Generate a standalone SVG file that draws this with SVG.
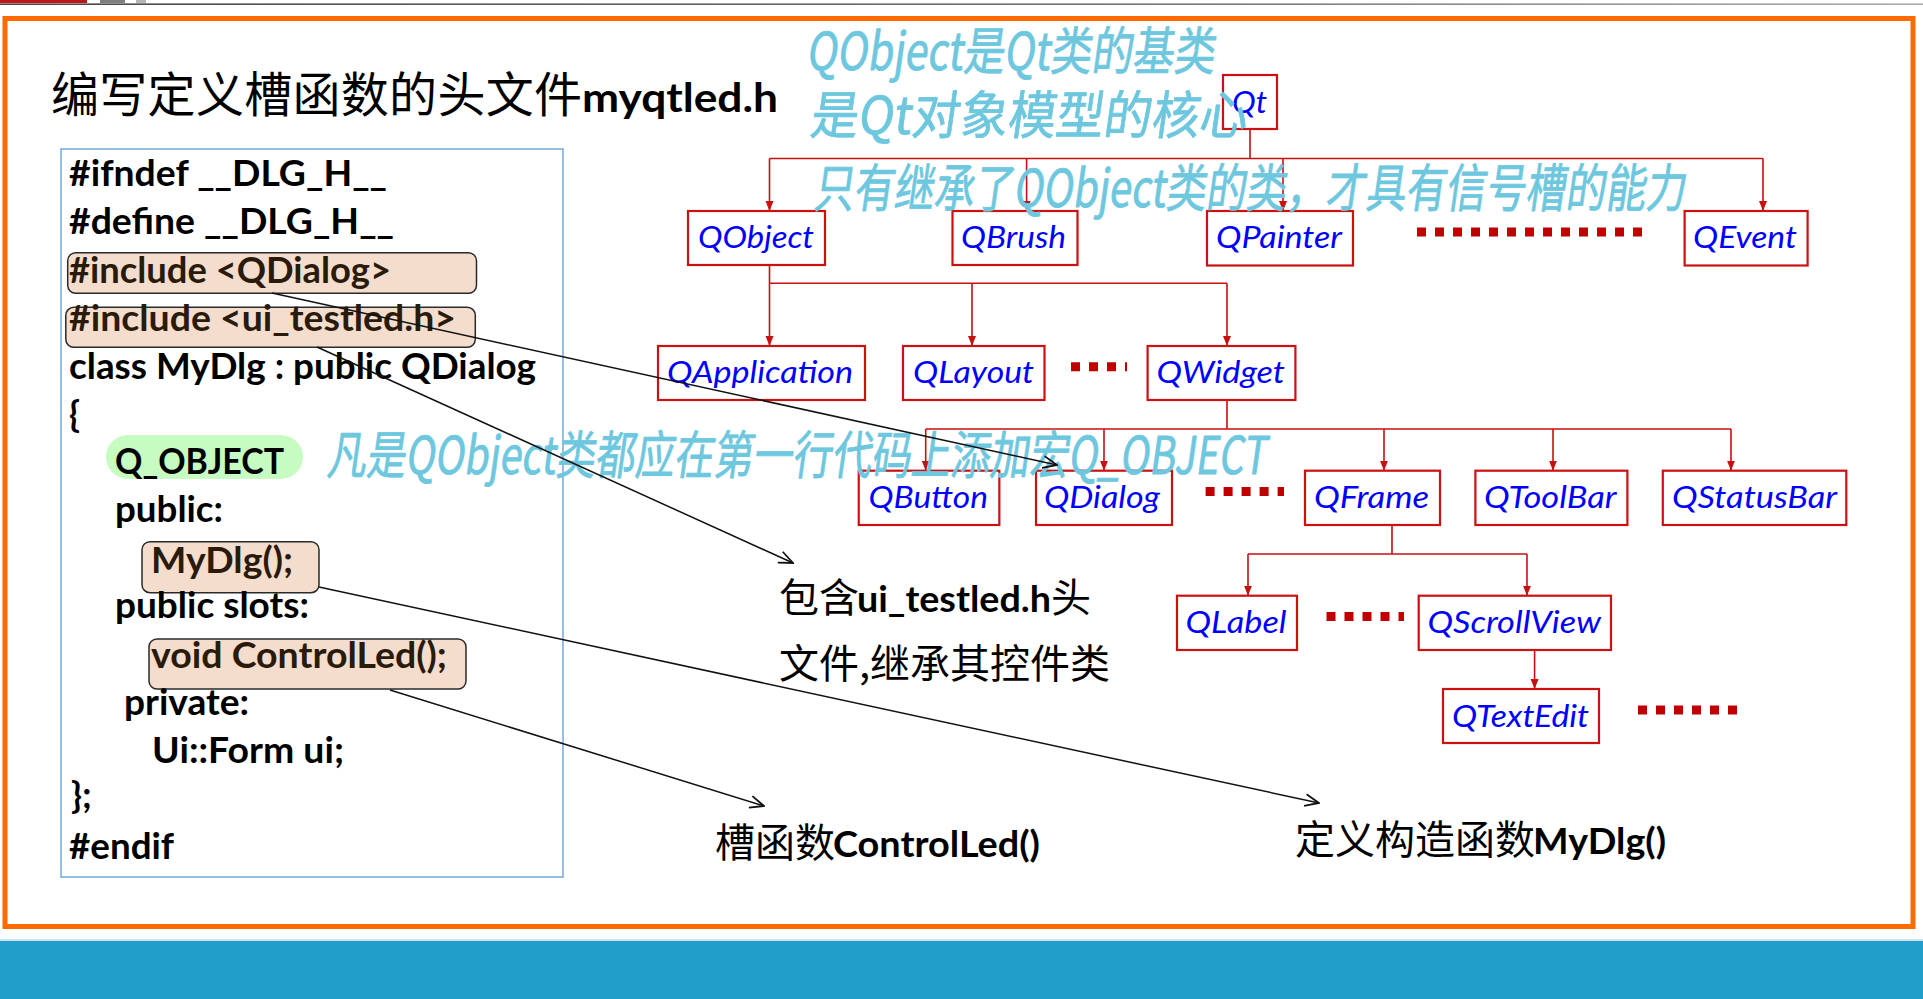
<svg xmlns="http://www.w3.org/2000/svg" width="1923" height="999" viewBox="0 0 1923 999">
  <defs>
    <style>
      .code { font-family: Lato, "Liberation Sans", sans-serif; font-weight: 700; font-size: 36px; fill: #000; }
      .code.hl { fill: #2A1A0A; }
      .hlbox { fill: #F4DDCD; stroke: #2A2A2A; stroke-width: 1.5; }
      .cls rect { fill: #fff; stroke: #CC1111; stroke-width: 2.2; }
      .cls text { font-family: Lato, "Liberation Sans", sans-serif; font-style: italic; font-size: 31px; fill: #0000FF; }
      .tree { fill: none; stroke: #C81010; stroke-width: 1.6; }
      .tree .drop { marker-end: url(#redTip); }
      .more { fill: none; stroke: #C00000; stroke-width: 9; stroke-dasharray: 9 9; }
      .link { fill: none; stroke: #111; stroke-width: 1.5; marker-end: url(#openTip); }
      .label { font-family: "Noto Sans CJK SC", sans-serif; font-size: 40px; fill: #000; }
      .label .lat { font-family: Lato, "Liberation Sans", sans-serif; font-weight: 700; font-size: 37px; }
      .hand { font-family: "Noto Sans CJK SC", sans-serif; font-size: 52px; font-weight: 400; fill: #6DC7DE; stroke: #6DC7DE; stroke-width: 0.8; stroke-linejoin: round; }
    </style>
    <linearGradient id="topRule" x1="0" y1="0" x2="1" y2="0">
      <stop offset="0" stop-color="#1a1a1a"/>
      <stop offset="0.6" stop-color="#555"/>
      <stop offset="1" stop-color="#999"/>
    </linearGradient>
    <marker id="redTip" markerUnits="userSpaceOnUse" markerWidth="10" markerHeight="10" viewBox="0 0 10 10" refX="10" refY="5" orient="auto">
      <path d="M0 1 L10 5 L0 9 Z" fill="#C81010"/>
    </marker>
    <marker id="openTip" markerUnits="userSpaceOnUse" markerWidth="16" markerHeight="16" viewBox="0 0 16 16" refX="15" refY="8" orient="auto">
      <path d="M1 2 L15 8 L1 14" fill="none" stroke="#111" stroke-width="1.8"/>
    </marker>
  </defs>

  <!-- page background -->
  <rect x="0" y="0" width="1923" height="999" fill="#fff"/>

  <!-- top strip -->
  <rect x="0" y="0" width="87" height="3" fill="#C0161B"/>
  <rect x="100" y="0" width="25" height="3" fill="#7F7F7F"/>
  <rect x="136" y="0" width="10" height="3" fill="#B5B5B5"/>
  <rect x="0" y="3.5" width="1923" height="1.3" fill="url(#topRule)"/>

  <!-- orange frame -->
  <rect x="5" y="18.5" width="1908" height="908" fill="none" stroke="#FF6A00" stroke-width="5"/>

  <!-- bottom band -->
  <rect x="0" y="939" width="1923" height="2" fill="#CFE3EC"/>
  <rect x="0" y="941" width="1923" height="58" fill="#219EC9"/>

  <!-- title -->
  <g id="title">
    <text y="112" font-family="'Noto Sans CJK SC', sans-serif" font-size="48" fill="#000">
      <tspan x="51" letter-spacing="0.3">编写定义槽函数的头文件</tspan><tspan x="582" font-family="Lato, 'Liberation Sans', sans-serif" font-weight="700" font-size="41" textLength="196" lengthAdjust="spacingAndGlyphs">myqtled.h</tspan>
    </text>
  </g>

  <!-- header file listing -->
  <g id="code">
    <rect x="61" y="149" width="502" height="728" fill="none" stroke="#74A9DC" stroke-width="1.5"/>
    <rect class="hlbox" x="67.7" y="252.7" width="408.8" height="40.6" rx="8"/>
    <rect class="hlbox" x="65.8" y="307.3" width="409.5" height="40" rx="8"/>
    <rect x="106" y="435" width="197" height="44" rx="22" fill="#C6FCC2"/>
    <rect class="hlbox" x="142" y="541.7" width="177" height="51" rx="8"/>
    <rect class="hlbox" x="149" y="639" width="317" height="50" rx="8"/>
    <text class="code" x="69" y="186" textLength="318" lengthAdjust="spacingAndGlyphs">#ifndef __DLG_H__</text>
    <text class="code" x="69" y="234" textLength="325" lengthAdjust="spacingAndGlyphs">#define __DLG_H__</text>
    <text class="code hl" x="69" y="283" textLength="322" lengthAdjust="spacingAndGlyphs">#include &lt;QDialog&gt;</text>
    <text class="code hl" x="69" y="331" textLength="387" lengthAdjust="spacingAndGlyphs">#include &lt;ui_testled.h&gt;</text>
    <text class="code" x="69" y="379" textLength="467" lengthAdjust="spacingAndGlyphs">class MyDlg : public QDialog</text>
    <text class="code" x="69" y="427">{</text>
    <text class="code" x="115" y="474" textLength="169" lengthAdjust="spacingAndGlyphs">Q_OBJECT</text>
    <text class="code" x="115" y="522" textLength="108" lengthAdjust="spacingAndGlyphs">public:</text>
    <text class="code hl" x="151" y="573" textLength="142" lengthAdjust="spacingAndGlyphs">MyDlg();</text>
    <text class="code" x="115" y="618" textLength="194" lengthAdjust="spacingAndGlyphs">public slots:</text>
    <text class="code hl" x="151" y="668" textLength="296" lengthAdjust="spacingAndGlyphs">void ControlLed();</text>
    <text class="code" x="124" y="715" textLength="125" lengthAdjust="spacingAndGlyphs">private:</text>
    <text class="code" x="152" y="763" textLength="192" lengthAdjust="spacingAndGlyphs">Ui::Form ui;</text>
    <text class="code" x="71" y="808">};</text>
    <text class="code" x="69" y="859" textLength="105" lengthAdjust="spacingAndGlyphs">#endif</text>
  </g>

  <!-- class tree connectors -->
  <g id="tree-links" class="tree">
    <path d="M1250 129 V158.5 M769.5 158.5 H1763"/>
    <path class="drop" d="M769.5 158.5 V211"/>
    <path class="drop" d="M1026.6 158.5 V211"/>
    <path class="drop" d="M1283 158.5 V211"/>
    <path class="drop" d="M1763 158.5 V211"/>

    <path d="M769.5 265 V283.3 M769.5 283.3 H1227"/>
    <path class="drop" d="M769.5 283.3 V346"/>
    <path class="drop" d="M972 283.3 V346"/>
    <path class="drop" d="M1227 283.3 V346"/>

    <path d="M1227 400 V429 M925.7 429 H1731"/>
    <path class="drop" d="M925.7 429 V470.7"/>
    <path class="drop" d="M1104 429 V470.7"/>
    <path class="drop" d="M1384 429 V470.7"/>
    <path class="drop" d="M1553 429 V470.7"/>
    <path class="drop" d="M1731 429 V470.7"/>

    <path d="M1392 525 V554 M1248 554 H1527"/>
    <path class="drop" d="M1248 554 V595.7"/>
    <path class="drop" d="M1527 554 V595.7"/>

    <path class="drop" d="M1534.6 650 V689"/>
  </g>

  <!-- elided siblings -->
  <g id="more-marks" class="more">
    <path d="M1417 232 H1643"/>
    <path d="M1071 366.7 H1127"/>
    <path d="M1205.6 491.5 H1284"/>
    <path d="M1326.5 616.5 H1404"/>
    <path d="M1638 710 H1738"/>
  </g>

  <!-- class nodes -->
  <g id="Qt" class="cls"><rect x="1223" y="75" width="54" height="54"/><text x="1232" y="113" textLength="35" lengthAdjust="spacingAndGlyphs">Qt</text></g>
  <g id="QObject" class="cls"><rect x="688" y="211" width="137" height="54"/><text x="698" y="248" textLength="116" lengthAdjust="spacingAndGlyphs">QObject</text></g>
  <g id="QBrush" class="cls"><rect x="952.5" y="211" width="125" height="54"/><text x="961" y="248" textLength="105" lengthAdjust="spacingAndGlyphs">QBrush</text></g>
  <g id="QPainter" class="cls"><rect x="1207" y="211" width="146" height="54.5"/><text x="1216" y="248" textLength="126" lengthAdjust="spacingAndGlyphs">QPainter</text></g>
  <g id="QEvent" class="cls"><rect x="1684.6" y="211" width="123" height="54.5"/><text x="1693" y="248" textLength="104" lengthAdjust="spacingAndGlyphs">QEvent</text></g>
  <g id="QApplication" class="cls"><rect x="658" y="346" width="207" height="54"/><text x="667" y="383" textLength="186" lengthAdjust="spacingAndGlyphs">QApplication</text></g>
  <g id="QLayout" class="cls"><rect x="903" y="346" width="141.5" height="54"/><text x="913" y="383" textLength="121" lengthAdjust="spacingAndGlyphs">QLayout</text></g>
  <g id="QWidget" class="cls"><rect x="1147.6" y="346" width="147.8" height="54"/><text x="1156.5" y="383" textLength="128.5" lengthAdjust="spacingAndGlyphs">QWidget</text></g>
  <g id="QButton" class="cls"><rect x="858.75" y="470.7" width="140.6" height="54.3"/><text x="868.6" y="508" textLength="119.4" lengthAdjust="spacingAndGlyphs">QButton</text></g>
  <g id="QDialog" class="cls"><rect x="1036" y="470.7" width="136" height="54.3"/><text x="1044" y="508" textLength="116" lengthAdjust="spacingAndGlyphs">QDialog</text></g>
  <g id="QFrame" class="cls"><rect x="1305" y="470.7" width="135" height="54.3"/><text x="1314" y="508" textLength="115" lengthAdjust="spacingAndGlyphs">QFrame</text></g>
  <g id="QToolBar" class="cls"><rect x="1475.4" y="470.7" width="152" height="54.3"/><text x="1484" y="508" textLength="132.5" lengthAdjust="spacingAndGlyphs">QToolBar</text></g>
  <g id="QStatusBar" class="cls"><rect x="1662.8" y="470.7" width="183.5" height="54.3"/><text x="1672" y="508" textLength="165" lengthAdjust="spacingAndGlyphs">QStatusBar</text></g>
  <g id="QLabel" class="cls"><rect x="1177" y="595.7" width="120" height="54.3"/><text x="1185.5" y="633" textLength="101" lengthAdjust="spacingAndGlyphs">QLabel</text></g>
  <g id="QScrollView" class="cls"><rect x="1418.7" y="595.7" width="192.3" height="54.3"/><text x="1427.6" y="633" textLength="173.4" lengthAdjust="spacingAndGlyphs">QScrollView</text></g>
  <g id="QTextEdit" class="cls"><rect x="1443" y="689" width="156" height="54"/><text x="1452" y="727" textLength="137" lengthAdjust="spacingAndGlyphs">QTextEdit</text></g>

  <!-- explanation labels -->
  <g id="note-include" class="label">
    <text y="612"><tspan x="779">包含</tspan><tspan class="lat" x="857" textLength="194" lengthAdjust="spacingAndGlyphs">ui_testled.h</tspan><tspan x="1051">头</tspan></text>
    <text y="678" x="779">文件,继承其控件类</text>
  </g>
  <g id="note-slot" class="label">
    <text y="857"><tspan x="715">槽函数</tspan><tspan class="lat" x="833" textLength="207" lengthAdjust="spacingAndGlyphs">ControlLed()</tspan></text>
  </g>
  <g id="note-ctor" class="label">
    <text y="854"><tspan x="1295">定义构造函数</tspan><tspan class="lat" x="1533" textLength="133" lengthAdjust="spacingAndGlyphs">MyDlg()</tspan></text>
  </g>

  <!-- handwritten remarks -->
  <g id="remarks" class="hand">
    <g transform="translate(806 70) skewX(-8)"><text x="0" y="0" textLength="408" lengthAdjust="spacingAndGlyphs">QObject是Qt类的基类</text></g>
    <g transform="translate(809 134) skewX(-8)"><text x="0" y="0" textLength="437" lengthAdjust="spacingAndGlyphs">是Qt对象模型的核心</text></g>
    <g transform="translate(813 207) skewX(-8)"><text x="0" y="0" textLength="872" lengthAdjust="spacingAndGlyphs">只有继承了QObject类的类，才具有信号槽的能力</text></g>
    <g transform="translate(326 474) skewX(-8)"><text x="0" y="0" textLength="940" lengthAdjust="spacingAndGlyphs">凡是QObject类都应在第一行代码上添加宏Q_OBJECT</text></g>
  </g>

  <!-- pointers from the listing to the notes and the tree -->
  <g id="pointers">
    <path class="link" d="M272 293 L1057 465"/>
    <path class="link" d="M317 347 L793 563"/>
    <path class="link" d="M319 587 L1319 803"/>
    <path class="link" d="M390 690 L764 806"/>
  </g>
</svg>
